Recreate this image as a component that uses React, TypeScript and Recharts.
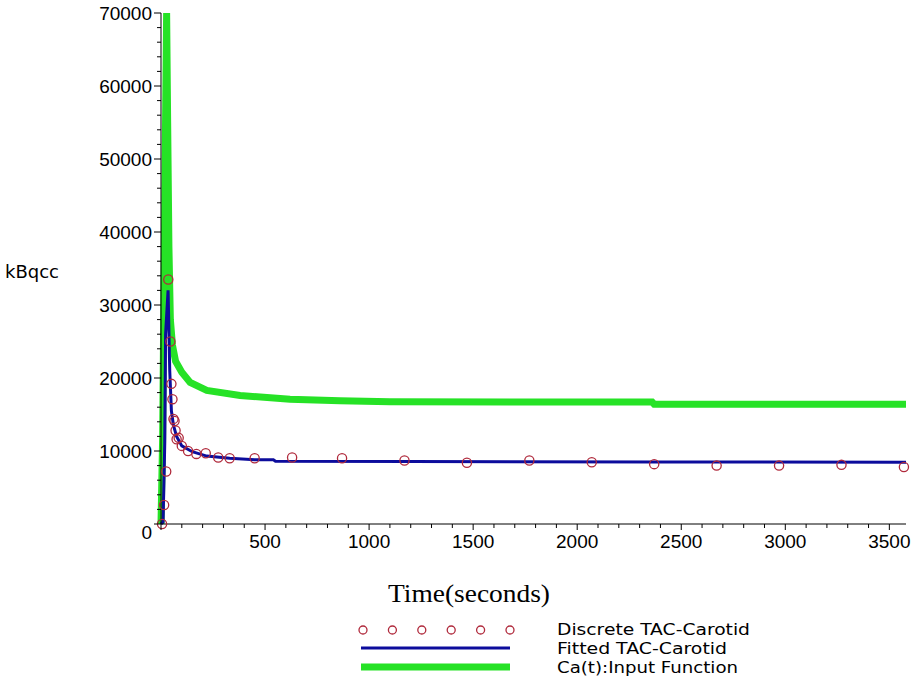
import { ComposedChart, Line, Scatter, XAxis, YAxis } from "recharts";

// Discrete TAC-Carotid samples (seconds, kBq/cc)
const tacTimes = [5, 15, 25, 35, 45, 50, 55, 60, 65, 70, 75, 85, 100, 130, 170, 215, 275, 330, 450, 630, 870, 1170, 1470, 1770, 2070, 2370, 2670, 2970, 3270, 3570];
const tacValues = [0, 2600, 7200, 33500, 25000, 19200, 17100, 14400, 14100, 12800, 11600, 11800, 10700, 10000, 9600, 9700, 9100, 9000, 9000, 9100, 9000, 8700, 8400, 8700, 8450, 8200, 8000, 8000, 8100, 7800];

// fitted TAC-Carotid curve
const fitTimes = [0, 10, 18, 22, 34, 42, 50, 60, 75, 100, 150, 220, 330, 450, 540, 550, 1200, 2400, 3580];
const fitValues = [0, 300, 11000, 26000, 32000, 21000, 15500, 13500, 12000, 10700, 9900, 9300, 9000, 8800, 8800, 8600, 8550, 8500, 8450];

// Ca(t) input function
const inputTimes = [0, 8, 15, 27, 32, 38, 45, 55, 70, 100, 140, 220, 380, 620, 860, 1100, 2360, 2370, 3580];
const inputValues = [0, 12000, 35000, 70000, 55000, 38000, 28000, 24500, 22300, 20800, 19400, 18300, 17600, 17100, 16900, 16750, 16700, 16400, 16400];

const xTicks = Array.from({ length: 36 }, (_, i) => i * 100);
const yTicks = Array.from({ length: 36 }, (_, i) => i * 2000);

const legendLabels = ["Discrete TAC-Carotid", "Fitted TAC-Carotid", "Ca(t):Input Function"];

const tacData = tacTimes.map((t, i) => ({ t, v: tacValues[i] }));
const fitData = fitTimes.map((t, i) => ({ t, v: fitValues[i] }));
const inputData = inputTimes.map((t, i) => ({ t, v: inputValues[i] }));

const RED = "#b02a3c";
const BLUE = "#0c0c9c";
const GREEN = "#26e226";
const tickFont = "'Liberation Sans', Arial, sans-serif";
const textFont = "'DejaVu Sans', sans-serif";

function YTick({ x, y, payload }: any) {
  const v = payload.value;
  const major = v % 10000 === 0;
  return (
    <g>
      <line x1={x - (major ? 7 : 4)} x2={x} y1={y} y2={y} stroke="#000" />
      {major && (
        <text x={x - 9} y={v === 0 ? y + 8 : y} dy="0.35em" textAnchor="end" fontFamily={tickFont} fontSize={19} fill="#000">
          {v}
        </text>
      )}
    </g>
  );
}

function XTick({ x, y, payload }: any) {
  const v = payload.value;
  const major = v % 500 === 0;
  return (
    <g>
      <line x1={x} x2={x} y1={y} y2={y + (major ? 6 : 4)} stroke="#000" />
      {major && v !== 0 && (
        <text x={x} y={y + 17} dy="0.35em" textAnchor="middle" fontFamily={tickFont} fontSize={19} fill="#000">
          {v}
        </text>
      )}
    </g>
  );
}

const Circle = (p: any) => <circle cx={p.cx} cy={p.cy} r={4.6} fill="none" stroke={RED} strokeWidth={1.3} />;

function Legend() {
  const ys = [14, 33, 52];
  const widths = [193, 170, 181];
  return (
    <svg width={450} height={66} style={{ position: "absolute", left: 350, top: 615 }}>
      {[0, 1, 2, 3, 4, 5].map((i) => (
        <circle key={i} cx={13 + i * 29.4} cy={ys[0] + 1} r={4} fill="none" stroke={RED} strokeWidth={1.3} />
      ))}
      <line x1={11} x2={160} y1={ys[1]} y2={ys[1]} stroke={BLUE} strokeWidth={3} />
      <line x1={11} x2={160} y1={ys[2]} y2={ys[2]} stroke={GREEN} strokeWidth={7} />
      {legendLabels.map((r, i) => (
        <text key={r} x={207} y={ys[i]} dy="0.35em" fontFamily={textFont} fontSize={16} textLength={widths[i]} lengthAdjust="spacingAndGlyphs" fill="#000">
          {r}
        </text>
      ))}
    </svg>
  );
}

export default function App() {
  return (
    <div style={{ position: "absolute", left: 0, top: 0, width: 911, height: 681, background: "#fff" }}>
      <ComposedChart width={911} height={681} margin={{ top: 13, right: 5, left: 0, bottom: 127 }}>
        <XAxis
          dataKey="t"
          type="number"
          domain={[0, 3580]}
          ticks={xTicks}
          interval={0}
          height={30}
          stroke="#000"
          tickLine={false}
          tickSize={0}
          tickMargin={0}
          tick={(p: any) => <XTick {...p} />}
          label={{
            value: "Time(seconds)",
            content: (p: any) => (
              <text x={p.viewBox.x + 227} y={p.viewBox.y + 69} dy="0.35em" fontFamily="'Liberation Serif', serif" fontSize={25} textLength={162} lengthAdjust="spacingAndGlyphs" fill="#000">
                Time(seconds)
              </text>
            ),
          }}
        />
        <YAxis
          dataKey="v"
          type="number"
          domain={[0, 70000]}
          ticks={yTicks}
          interval={0}
          width={161}
          stroke="#000"
          tickLine={false}
          tickSize={0}
          tickMargin={0}
          tick={(p: any) => <YTick {...p} />}
          label={{
            value: "kBqcc",
            content: (p: any) => (
              <text x={p.viewBox.x + 5} y={p.viewBox.y + p.viewBox.height / 2 + 3} dy="0.35em" fontFamily={textFont} fontSize={18} fill="#000">
                kBqcc
              </text>
            ),
          }}
        />
        <Line data={inputData} dataKey="v" type="linear" stroke={GREEN} strokeWidth={7} dot={false} isAnimationActive={false} />
        <Line data={fitData} dataKey="v" type="linear" stroke={BLUE} strokeWidth={3} dot={false} isAnimationActive={false} />
        <Scatter data={tacData} dataKey="v" shape={Circle} isAnimationActive={false} />
      </ComposedChart>
      <Legend />
    </div>
  );
}
